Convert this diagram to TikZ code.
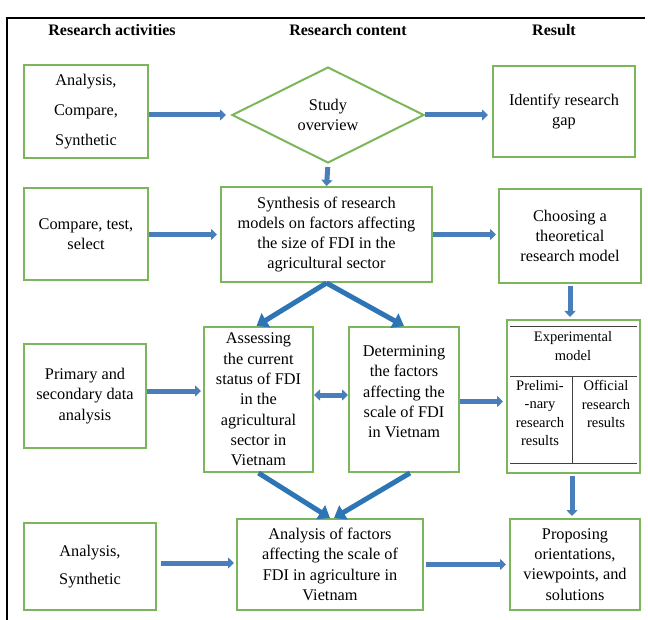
\documentclass[tikz,border=0pt]{standalone}
\usepackage{fontspec}
\setmainfont{Liberation Serif}
\usetikzlibrary{shapes.geometric,arrows.meta}
\definecolor{boxgreen}{HTML}{7CB65A}
\definecolor{arrblue}{HTML}{4A7EBB}
\definecolor{diagblue}{HTML}{2E75B6}
\tikzset{
  box/.style={draw=boxgreen,line width=2pt,align=center,inner sep=2pt,font=\fontsize{16.3}{20.3}\selectfont},
  boxtext/.style={align=center,inner sep=2pt,font=\fontsize{16.3}{20.3}\selectfont},
  barrow/.style={draw=arrblue,line width=5pt,-{Triangle[width=11pt,length=6pt]}},
  bdarrow/.style={draw=arrblue,line width=5pt,{Triangle[width=11pt,length=6pt]}-{Triangle[width=11pt,length=6pt]}},
  darrow/.style={draw=diagblue,line width=5pt,-{Triangle[width=16pt,length=11pt]}},
  head/.style={font=\bfseries\fontsize{16}{19}\selectfont},
  inner/.style={draw=black!75,line width=0.9pt},
  small/.style={align=center,font=\fontsize{14.5}{18.5}\selectfont}
}
\begin{document}
\begin{tikzpicture}[x=1pt,y=-1pt]
\useasboundingbox (0,0) rectangle (648,620);
\draw[line width=1.5pt] (7,620) -- (7,18) -- (645,18);
\node[head] (h1) at (112,30) {Research activities};
\node[head] (h2) at (348,30) {Research content};
\node[head] (h3) at (554,30) {Result};
% left column
\node[box,minimum width=124,minimum height=93,font=\fontsize{16.3}{30}\selectfont] (A1) at (86,111.5) {Analysis,\\Compare,\\Synthetic};
\node[box,minimum width=124,minimum height=92] (A2) at (86,234) {Compare, test,\\select};
\node[box,minimum width=122,minimum height=104] (A3) at (85,396) {Primary and\\secondary data\\analysis};
\node[box,minimum width=132,minimum height=87,font=\fontsize{16.3}{28}\selectfont] (A4) at (90,566.5) {Analysis,\\Synthetic};
% middle column
\node[box,shape=diamond,aspect=2,inner sep=0pt,minimum width=192,minimum height=96] (D) at (328,115) {Study\\overview};
\node[box,minimum width=211,minimum height=95] (M2) at (326.5,234.5) {Synthesis of research\\models on factors affecting\\the size of FDI in the\\agricultural sector};
\node[box,minimum width=109,minimum height=145] (M3a) at (258.5,399.5) {Assessing\\the current\\status of FDI\\in the\\agricultural\\sector in\\Vietnam};
\node[box,minimum width=110,minimum height=145] (M3b) at (404,399.5) {};
\node[boxtext] (M3bt) at (404,392) {Determining\\the factors\\affecting the\\scale of FDI\\in Vietnam};
\node[box,minimum width=186,minimum height=91] (M4) at (330,564.5) {Analysis of factors\\affecting the scale of\\FDI in agriculture in\\Vietnam};
% right column
\node[box,minimum width=142,minimum height=91] (R1) at (564,111.5) {Identify research\\gap};
\node[box,minimum width=142,minimum height=94] (R2) at (570,236) {Choosing a\\theoretical\\research model};
\node[box,minimum width=133,minimum height=153] (R3) at (573.5,396.5) {};
\draw[inner] (510,326) -- (637,326);
\draw[inner] (510,376) -- (637,376);
\draw[inner] (510,463) -- (637,463);
\draw[inner] (572,376) -- (572,463);
\node[small] (R3t) at (573,346) {Experimental\\model};
\node[small] (R3l) at (540,413) {Prelimi-\\-nary\\research\\results};
\node[small] (R3r) at (606,404) {Official\\research\\results};
\node[box,minimum width=130,minimum height=91] (R4) at (575,564.5) {Proposing\\orientations,\\viewpoints, and\\solutions};
% block arrows
\draw[barrow,shorten >=5pt] (A1.east |- D.west) -- (D.west);
\draw[barrow,shorten >=4pt] (D.east) -- (R1.west |- D.east);
\draw[barrow,shorten <=3pt] (D.south) -- (M2.north);
\draw[barrow,shorten >=3pt] (A2.east |- M2.west) -- (M2.west);
\draw[barrow,shorten >=2pt] (M2.east) -- (R2.west |- M2.east);
\draw[barrow,shorten <=2pt,shorten >=2pt] (R2.south) -- (R3.north -| R2.south);
\draw[barrow,shorten >=2pt] ([yshift=5pt]A3.east) -- ([yshift=5pt]M3a.west |- A3.east);
\draw[bdarrow] ([yshift=4.5pt]M3a.east) -- ([yshift=4.5pt]M3b.west);
\draw[barrow,shorten >=3pt] ([yshift=-2pt]M3b.east) -- ([yshift=-2pt]R3.west |- M3b.east);
\draw[barrow,shorten <=2pt,shorten >=2pt] ([xshift=-1.5pt]R3.south) -- ([xshift=-1.5pt]R4.north -| R3.south);
\draw[barrow,shorten <=4pt,shorten >=2pt] ([yshift=3.5pt]A4.east) -- ([yshift=3.5pt]M4.west |- A4.east);
\draw[barrow,shorten <=2pt,shorten >=3pt] (M4.east) -- (R4.west |- M4.east);
% diagonal arrows
\draw[darrow] (M2.south) -- ([xshift=-2pt]M3a.north);
\draw[darrow] (M2.south) -- (M3b.north);
\draw[darrow] (M3a.south) -- (M4.north);
\draw[darrow] ([xshift=6pt]M3b.south) -- ([xshift=4pt]M4.north);
\end{tikzpicture}
\end{document}
